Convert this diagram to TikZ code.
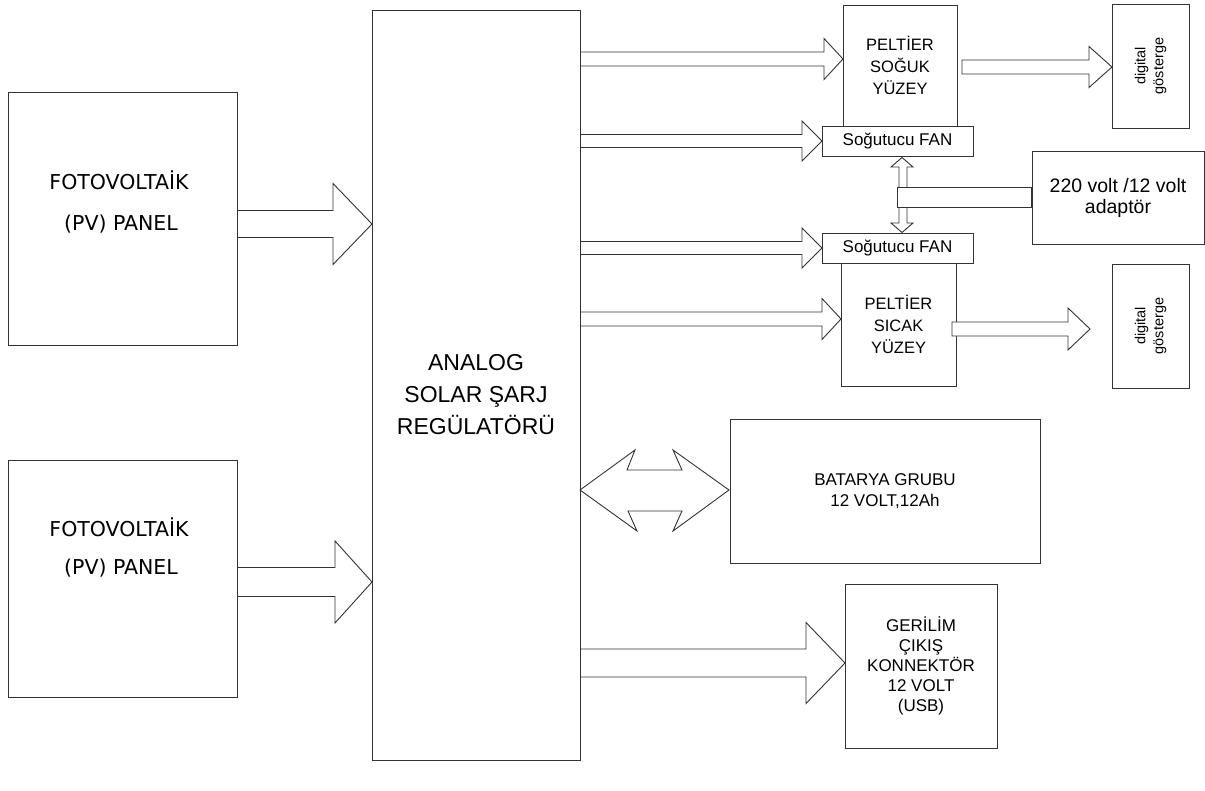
\documentclass[tikz,border=0pt]{standalone}
\usepackage{fontspec}
\setmainfont{Liberation Sans}
\newfontfamily\pvf{DejaVu Sans}
\usetikzlibrary{calc}
\tikzset{
  box/.style={draw=black!80, line width=0.9pt, fill=white, inner sep=0pt, rectangle, align=center},
  arr/.style={draw=black!80, line width=0.9pt, fill=white, line join=miter},
  lbl/.style={inner sep=0pt, align=center},
  pvfont/.style={font=\pvf\fontsize{20.5}{44}\selectfont},
  midfont/.style={font=\fontsize{16.5}{22}\selectfont},
  fanfont/.style={font=\fontsize{17}{20}\selectfont},
}
% #1 start point (x used), #2 tip point, #3 head length, #4 half shaft, #5 half head
\newcommand\blockarrow[5]{%
  \draw[arr] let \p1=#1, \p2=#2 in
    (\x1,\y2+#4pt) -- (\x2-#3pt,\y2+#4pt) -- (\x2-#3pt,\y2+#5pt) -- (\x2,\y2)
    -- (\x2-#3pt,\y2-#5pt) -- (\x2-#3pt,\y2-#4pt) -- (\x1,\y2-#4pt) -- cycle;}
\begin{document}
\begin{tikzpicture}[x=1pt,y=-1pt]
\useasboundingbox (0,0) rectangle (1205,790);
\fill[white] (0,0) rectangle (1205,790);

% boxes
\node[box, minimum width=229pt, minimum height=253pt] (pv1) at (122.5,218.5) {};
\node[box, minimum width=229pt, minimum height=237pt] (pv2) at (122.5,578.5) {};
\node[box, minimum width=208pt, minimum height=750pt] (reg) at (476,385) {};
\node[box, minimum width=114pt, minimum height=121pt, midfont] (pc) at (900,65.5) {PELTİER\\SOĞUK\\YÜZEY};
\node[box, minimum width=115pt, minimum height=123pt, midfont] (ph) at (898.5,324.5) {PELTİER\\SICAK\\YÜZEY};
\node[box, minimum width=151pt, minimum height=30pt, fanfont] (fan1) at (897.5,141) {Soğutucu FAN};
\node[box, minimum width=151pt, minimum height=30pt, fanfont] (fan2) at (897.5,248) {Soğutucu FAN};
\node[box, minimum width=172pt, minimum height=93pt, font=\fontsize{19.5}{21}\selectfont] (adp) at (1118,197.5) {220 volt /12 volt\\adaptör};
\node[box, minimum width=77pt, minimum height=124pt] (dg1) at (1150.5,66) {};
\node[box, minimum width=77pt, minimum height=124pt] (dg2) at (1150.5,326) {};
\node[box, minimum width=310pt, minimum height=144pt, font=\fontsize{17}{21}\selectfont] (bat) at (885,491) {BATARYA GRUBU\\12 VOLT,12Ah};
\node[box, minimum width=152pt, minimum height=164pt, font=\fontsize{17}{20}\selectfont] (usb) at (921,666) {GERİLİM\\ÇIKIŞ\\KONNEKTÖR\\12 VOLT\\(USB)};

% labels
\node[lbl, pvfont] (pv1a) at (119,180) {FOTOVOLTAİK};
\node[lbl, pvfont] (pv1b) at (121,224) {(PV) PANEL};
\node[lbl, pvfont] (pv2a) at (119,527) {FOTOVOLTAİK};
\node[lbl, pvfont] (pv2b) at (121,568) {(PV) PANEL};
\node[lbl, font=\fontsize{23}{32}\selectfont] (regt) at (476,395) {ANALOG\\SOLAR ŞARJ\\REGÜLATÖRÜ};
\node[lbl, rotate=90, font=\fontsize{14.5}{18}\selectfont] (dg1t) at (dg1.center) {digital\\gösterge};
\node[lbl, rotate=90, font=\fontsize{14.5}{18}\selectfont] (dg2t) at (dg2.center) {digital\\gösterge};

% arrow tips / free ends
\coordinate (t1) at (372,224);
\coordinate (t2) at (372,582);
\coordinate (t3) at (843,59);
\coordinate (t4) at (822,141);
\coordinate (t5) at (822,248);
\coordinate (t6) at (841,319);
\coordinate (s7) at (962,67);
\coordinate (t7) at (1112,67);
\coordinate (s8) at (952,329);
\coordinate (t8) at (1090,329);
\coordinate (t9) at (845,663);

\blockarrow{(pv1.east)}{(t1)}{39}{13.5}{40.5}
\blockarrow{(pv2.east)}{(t2)}{37}{14.5}{41}
\blockarrow{(reg.east)}{(t3)}{19}{7}{20.5}
\blockarrow{(reg.east)}{(t4)}{20}{6.5}{20}
\blockarrow{(reg.east)}{(t5)}{20}{6.5}{20}
\blockarrow{(reg.east)}{(t6)}{19}{7}{20.5}
\blockarrow{(s7)}{(t7)}{23}{7}{20.5}
\blockarrow{(s8)}{(t8)}{22}{7}{21}
\blockarrow{(reg.east)}{(t9)}{39}{14}{40.5}

% battery double arrow
\draw[arr] (580,490) -- (635,450) -- (627,470) -- (682,470) -- (673,450) -- (729,490)
  -- (673,531) -- (682,511) -- (628,511) -- (637,531) -- cycle;

% vertical double arrow between the fans and the adapter bar
\draw[arr] (902,157.5) -- (913,167) -- (907,167) -- (907,223) -- (913,223) -- (902,232.5)
  -- (891,223) -- (899,223) -- (899,167) -- (891,167) -- cycle;
\draw[arr] (897,187) rectangle (adp.west |- 0,207);
\end{tikzpicture}
\end{document}
